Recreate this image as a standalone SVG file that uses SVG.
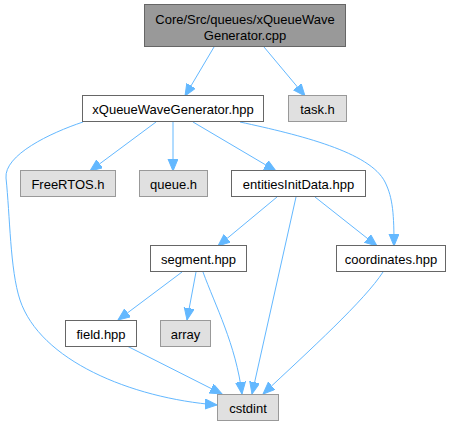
<svg xmlns="http://www.w3.org/2000/svg" width="455" height="427" viewBox="0 0 455 427">
<defs>
<style>
.n rect{stroke-width:1}
.w rect{fill:#ffffff;stroke:#666666}
.g rect{fill:#e0e0e0;stroke:#999999}
.m rect{fill:#999999;stroke:#666666}
text{font-family:"Liberation Sans",Arial,sans-serif;font-size:13px;fill:#000000;text-anchor:middle}
#edges path{fill:none;stroke:#63b8ff;stroke-width:1;marker-end:url(#ah)}
</style>
<marker id="ah" markerUnits="userSpaceOnUse" markerWidth="14" markerHeight="12" refX="12" refY="5" orient="auto">
<path d="M0,0 L12,5 L0,10 z" fill="#63b8ff" stroke="#63b8ff" stroke-width="1"/>
</marker>
</defs>
<rect width="455" height="427" fill="#ffffff"/>
<g id="edges">
<path d="M214,47 L185,96"/>
<path d="M264,47 L305,96"/>
<path d="M156,122 L90,171"/>
<path d="M173,122 L173,171"/>
<path d="M193,122 L276,171"/>
<path d="M240,122 C300,135 370,152 385,182 C393,198 394,215 394,246"/>
<path d="M83,122 C50,133 4,155 6,178 C10,215 10,270 20,300 C40,360 130,398 217,405"/>
<path d="M277,197 L218,246"/>
<path d="M296,197 L252,394"/>
<path d="M315,197 L377,246"/>
<path d="M182,272 L118,320"/>
<path d="M196,272 L187,320"/>
<path d="M203,272 C215,305 236,345 242,394"/>
<path d="M127,346 L222,394"/>
<path d="M383,272 C365,300 310,350 263,394"/>
</g>
<g id="n0" class="n m"><rect x="144.5" y="4.5" width="201" height="42"/><text x="245" y="24">Core/Src/queues/xQueueWave</text><text x="245" y="40">Generator.cpp</text></g>
<g id="n1" class="n w"><rect x="82.5" y="95.5" width="181" height="26"/><text x="173" y="113.5">xQueueWaveGenerator.hpp</text></g>
<g id="n2" class="n g"><rect x="288.5" y="95.5" width="58" height="26"/><text x="317.5" y="113.5">task.h</text></g>
<g id="n3" class="n g"><rect x="20.5" y="170.5" width="95" height="26"/><text x="68" y="188.5">FreeRTOS.h</text></g>
<g id="n4" class="n g"><rect x="139.5" y="170.5" width="68" height="26"/><text x="173.5" y="188.5">queue.h</text></g>
<g id="n5" class="n w"><rect x="231.5" y="170.5" width="134" height="26"/><text x="298.5" y="188.5">entitiesInitData.hpp</text></g>
<g id="n6" class="n w"><rect x="150.5" y="245.5" width="96" height="26"/><text x="198.5" y="263.5">segment.hpp</text></g>
<g id="n7" class="n w"><rect x="336.5" y="245.5" width="109" height="26"/><text x="391" y="263.5">coordinates.hpp</text></g>
<g id="n8" class="n w"><rect x="65.5" y="320.5" width="71" height="26"/><text x="101" y="338.5">field.hpp</text></g>
<g id="n9" class="n g"><rect x="160.5" y="320.5" width="50" height="26"/><text x="185.5" y="338.5">array</text></g>
<g id="n10" class="n g"><rect x="217.5" y="394.5" width="61" height="26"/><text x="248" y="412.5">cstdint</text></g>
</svg>
